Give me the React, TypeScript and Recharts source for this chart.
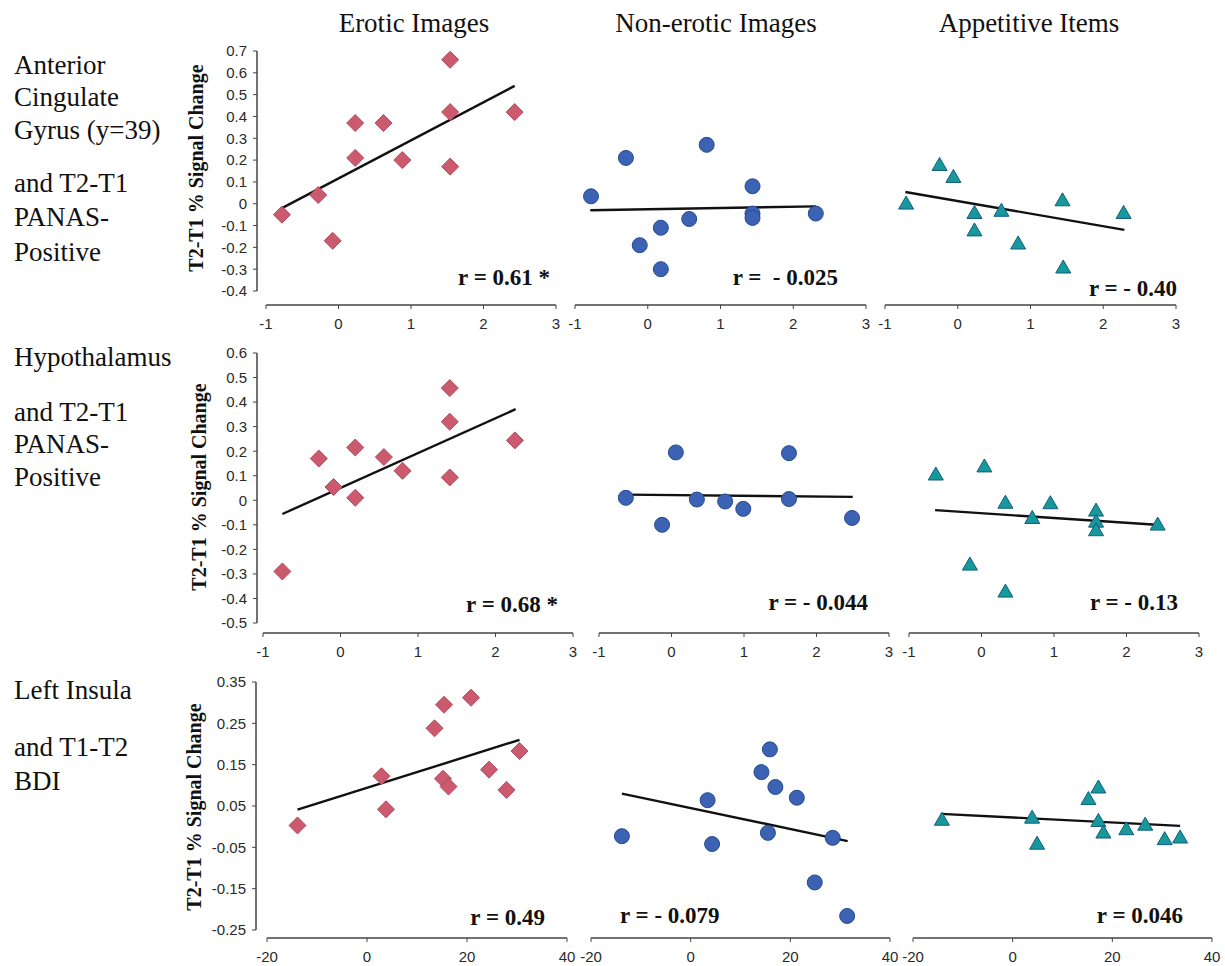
import { ScatterChart, Scatter, XAxis, YAxis, ReferenceLine } from 'recharts';

type Pt = { x: number; y: number };

// ---- categories / labels ----
const columnTitles = ['Erotic Images', 'Non-erotic Images', 'Appetitive Items'];
const rowLabels = [
  ['Anterior', 'Cingulate', 'Gyrus (y=39)', 'and T2-T1', 'PANAS-', 'Positive'],
  ['Hypothalamus', 'and T2-T1', 'PANAS-', 'Positive'],
  ['Left Insula', 'and T1-T2', 'BDI'],
];
const yTitle = 'T2-T1 % Signal Change';
const rLabels = [
  ['r = 0.61 *', 'r =  - 0.025', 'r = - 0.40'],
  ['r = 0.68 *', 'r = - 0.044', 'r = - 0.13'],
  ['r = 0.49', 'r = - 0.079', 'r = 0.046'],
];

// ---- tick values ----
const panasXTicks = [-1, 0, 1, 2, 3];
const bdiXTicks = [-20, 0, 20, 40];
const acgYTicks = [-0.4, -0.3, -0.2, -0.1, 0, 0.1, 0.2, 0.3, 0.4, 0.5, 0.6, 0.7];
const hypYTicks = [-0.5, -0.4, -0.3, -0.2, -0.1, 0, 0.1, 0.2, 0.3, 0.4, 0.5, 0.6];
const insYTicks = [-0.25, -0.15, -0.05, 0.05, 0.15, 0.25, 0.35];

// ---- row 1: anterior cingulate vs PANAS-positive ----
const acgErotic: Pt[] = [
  { x: -0.78, y: -0.05 }, { x: -0.28, y: 0.04 }, { x: -0.08, y: -0.17 }, { x: 0.23, y: 0.37 },
  { x: 0.23, y: 0.21 }, { x: 0.62, y: 0.37 }, { x: 0.88, y: 0.2 }, { x: 1.54, y: 0.66 },
  { x: 1.54, y: 0.42 }, { x: 1.54, y: 0.17 }, { x: 2.43, y: 0.42 },
];
const acgEroticFit: Pt[] = [{ x: -0.78, y: -0.02 }, { x: 2.43, y: 0.54 }];
const acgNonErotic: Pt[] = [
  { x: -0.78, y: 0.034 }, { x: -0.3, y: 0.21 }, { x: -0.11, y: -0.19 }, { x: 0.18, y: -0.11 },
  { x: 0.18, y: -0.3 }, { x: 0.57, y: -0.07 }, { x: 0.81, y: 0.27 }, { x: 1.44, y: 0.08 },
  { x: 1.44, y: -0.045 }, { x: 1.44, y: -0.065 }, { x: 2.31, y: -0.045 },
];
const acgNonEroticFit: Pt[] = [{ x: -0.79, y: -0.03 }, { x: 2.31, y: -0.012 }];
const acgAppetitive: Pt[] = [
  { x: -0.71, y: 0.003 }, { x: -0.25, y: 0.18 }, { x: -0.06, y: 0.125 }, { x: 0.23, y: -0.04 },
  { x: 0.23, y: -0.12 }, { x: 0.6, y: -0.03 }, { x: 0.83, y: -0.18 }, { x: 1.44, y: 0.018 },
  { x: 1.45, y: -0.29 }, { x: 2.28, y: -0.04 },
];
const acgAppetitiveFit: Pt[] = [{ x: -0.72, y: 0.054 }, { x: 2.29, y: -0.12 }];

// ---- row 2: hypothalamus vs PANAS-positive ----
const hypErotic: Pt[] = [
  { x: -0.75, y: -0.29 }, { x: -0.28, y: 0.17 }, { x: -0.09, y: 0.054 }, { x: 0.19, y: 0.215 },
  { x: 0.19, y: 0.01 }, { x: 0.56, y: 0.176 }, { x: 0.8, y: 0.12 }, { x: 1.41, y: 0.457 },
  { x: 1.41, y: 0.32 }, { x: 1.41, y: 0.093 }, { x: 2.25, y: 0.244 },
];
const hypEroticFit: Pt[] = [{ x: -0.75, y: -0.056 }, { x: 2.26, y: 0.371 }];
const hypNonErotic: Pt[] = [
  { x: -0.63, y: 0.01 }, { x: -0.13, y: -0.1 }, { x: 0.06, y: 0.195 }, { x: 0.35, y: 0.003 },
  { x: 0.74, y: -0.005 }, { x: 0.99, y: -0.035 }, { x: 1.62, y: 0.192 }, { x: 1.62, y: 0.005 },
  { x: 2.49, y: -0.072 },
];
const hypNonEroticFit: Pt[] = [{ x: -0.63, y: 0.023 }, { x: 2.5, y: 0.014 }];
const hypAppetitive: Pt[] = [
  { x: -0.63, y: 0.107 }, { x: 0.04, y: 0.14 }, { x: 0.33, y: -0.008 }, { x: 0.7, y: -0.07 },
  { x: 0.95, y: -0.01 }, { x: 1.58, y: -0.04 }, { x: 1.58, y: -0.085 }, { x: 1.58, y: -0.12 },
  { x: -0.16, y: -0.26 }, { x: 0.33, y: -0.37 }, { x: 2.43, y: -0.097 },
];
const hypAppetitiveFit: Pt[] = [{ x: -0.64, y: -0.04 }, { x: 2.41, y: -0.1 }];

// ---- row 3: left insula vs BDI ----
const insErotic: Pt[] = [
  { x: -13.9, y: 0.003 }, { x: 2.9, y: 0.122 }, { x: 3.8, y: 0.042 }, { x: 13.5, y: 0.238 },
  { x: 15.4, y: 0.295 }, { x: 15.2, y: 0.116 }, { x: 16.3, y: 0.097 }, { x: 20.8, y: 0.312 },
  { x: 24.4, y: 0.138 }, { x: 27.9, y: 0.089 }, { x: 30.5, y: 0.183 },
];
const insEroticFit: Pt[] = [{ x: -13.9, y: 0.041 }, { x: 30.5, y: 0.21 }];
const insNonErotic: Pt[] = [
  { x: -13.8, y: -0.023 }, { x: 3.4, y: 0.064 }, { x: 4.3, y: -0.042 }, { x: 14.2, y: 0.132 },
  { x: 15.9, y: 0.187 }, { x: 17.0, y: 0.096 }, { x: 15.5, y: -0.015 }, { x: 21.3, y: 0.07 },
  { x: 28.5, y: -0.027 }, { x: 24.9, y: -0.135 }, { x: 31.4, y: -0.216 },
];
const insNonEroticFit: Pt[] = [{ x: -13.8, y: 0.08 }, { x: 31.5, y: -0.035 }];
const insAppetitive: Pt[] = [
  { x: -14.2, y: 0.018 }, { x: 3.9, y: 0.023 }, { x: 4.9, y: -0.04 }, { x: 15.2, y: 0.068 },
  { x: 17.2, y: 0.096 }, { x: 17.2, y: 0.015 }, { x: 18.2, y: -0.013 }, { x: 22.8, y: -0.005 },
  { x: 26.6, y: 0.006 }, { x: 30.5, y: -0.029 }, { x: 33.6, y: -0.025 },
];
const insAppetitiveFit: Pt[] = [{ x: -14.4, y: 0.031 }, { x: 33.6, y: 0.002 }];

// ---- layout ----
const SERIF = "'Liberation Serif', 'Times New Roman', serif";
const SANS = "'Liberation Sans', Arial, sans-serif";
const AXIS = '#444';
const TICK = { fontFamily: SANS, fontSize: 15, fill: '#2a2a2a' };

type Kind = 'diamond' | 'circle' | 'triangle';
const kinds: Kind[] = ['diamond', 'circle', 'triangle'];

const rows = [
  {
    yTicks: acgYTicks, xTicks: panasXTicks, top: 51, minTickPx: 291, bottom: 305, yAxisX: 257,
    cols: [[266, 556], [575, 866], [885, 1176]],
    series: [[acgErotic, acgEroticFit], [acgNonErotic, acgNonEroticFit], [acgAppetitive, acgAppetitiveFit]],
  },
  {
    yTicks: hypYTicks, xTicks: panasXTicks, top: 353, minTickPx: 623, bottom: 633, yAxisX: 257,
    cols: [[263, 573], [599, 889], [909, 1199]],
    series: [[hypErotic, hypEroticFit], [hypNonErotic, hypNonEroticFit], [hypAppetitive, hypAppetitiveFit]],
  },
  {
    yTicks: insYTicks, xTicks: bdiXTicks, top: 682, minTickPx: 930, bottom: 938, yAxisX: 256,
    cols: [[267, 567], [591, 890], [913, 1212]],
    series: [[insErotic, insEroticFit], [insNonErotic, insNonEroticFit], [insAppetitive, insAppetitiveFit]],
  },
];

const rowLabelBaselines = [
  [74, 106, 139, 192, 226, 261],
  [366, 421, 453, 486],
  [699, 756, 790],
];
const yTitlePos = [[196, 168], [199, 487], [194, 807]];
const rLabelPos = [
  [[550, 285, 'end'], [838, 285, 'end'], [1177, 296, 'end']],
  [[558, 612, 'end'], [868, 610, 'end'], [1178, 610, 'end']],
  [[545, 925, 'end'], [620, 923, 'start'], [1183, 923, 'end']],
];
const titleX = [414, 716, 1029];

const Marker = (kind: Kind) => (p: any) => {
  const { cx, cy } = p;
  if (cx == null || cy == null) return <g />;
  if (kind === 'diamond') {
    const s = 8.5;
    return (
      <polygon
        points={`${cx},${cy - s} ${cx + s},${cy} ${cx},${cy + s} ${cx - s},${cy}`}
        fill="#cc5a6e" stroke="#b44a5e" strokeWidth={1}
      />
    );
  }
  if (kind === 'circle') {
    return <circle cx={cx} cy={cy} r={7.5} fill="#3c62b3" stroke="#264a91" strokeWidth={1} />;
  }
  return (
    <polygon
      points={`${cx},${cy - 7} ${cx + 7.5},${cy + 6} ${cx - 7.5},${cy + 6}`}
      fill="#17999b" stroke="#125d80" strokeWidth={1}
    />
  );
};

interface PanelProps {
  xStart: number; xEnd: number; yAxisX: number; showY: boolean;
  top: number; bottom: number; minTickPx: number;
  xTicks: number[]; yTicks: number[];
  points: Pt[]; fit: Pt[]; kind: Kind;
}

function Panel(props: PanelProps) {
  const { xStart, xEnd, yAxisX, showY, top, bottom, minTickPx, xTicks, yTicks, points, fit, kind } = props;
  const xMinT = xTicks[0];
  const xMaxT = xTicks[xTicks.length - 1];
  const yMinT = yTicks[0];
  const yMaxT = yTicks[yTicks.length - 1];
  const xPerPx = (xMaxT - xMinT) / (xEnd - xStart);
  const yPerPx = (yMaxT - yMinT) / (minTickPx - top);
  const plotLeft = showY ? yAxisX : xStart;
  const xMin = showY ? xMinT - (xStart - yAxisX) * xPerPx : xMinT;
  const yMin = yMinT - (bottom - minTickPx) * yPerPx;

  const leftPad = showY ? 70 : 12;
  const rightPad = 14;
  const topPad = 12;
  const bottomPad = 32;
  const width = xEnd - plotLeft + leftPad + rightPad;
  const height = bottom - top + topPad + bottomPad;

  return (
    <div style={{ position: 'absolute', left: plotLeft - leftPad, top: top - topPad }}>
      <ScatterChart
        width={width}
        height={height}
        margin={{ top: topPad, right: rightPad, bottom: 0, left: showY ? 0 : leftPad }}
      >
        <XAxis
          type="number"
          dataKey="x"
          domain={[xMin, xMaxT]}
          ticks={xTicks}
          allowDataOverflow
          axisLine={false}
          tickLine={{ stroke: AXIS }}
          tickSize={4}
          tickMargin={9}
          tick={TICK}
          height={bottomPad}
          interval={0}
        />
        <YAxis
          type="number"
          dataKey="y"
          domain={[yMin, yMaxT]}
          ticks={yTicks}
          allowDataOverflow
          hide={!showY}
          axisLine={false}
          tickLine={{ stroke: AXIS }}
          tickSize={4}
          tickMargin={6}
          tick={TICK}
          width={leftPad}
          interval={0}
          tickFormatter={(v: number) => (v === 0 ? '0' : String(v))}
        />
        <ReferenceLine
          segment={[{ x: xMinT, y: yMin }, { x: xMaxT, y: yMin }]}
          stroke={AXIS}
          strokeWidth={1.5}
          ifOverflow="visible"
        />
        {showY && (
          <ReferenceLine
            segment={[{ x: xMin, y: yMinT }, { x: xMin, y: yMaxT }]}
            stroke={AXIS}
            strokeWidth={1.5}
            ifOverflow="visible"
          />
        )}
        <Scatter
          data={fit}
          line={{ stroke: '#111', strokeWidth: 2.4 }}
          shape={() => <g />}
          isAnimationActive={false}
        />
        <Scatter data={points} shape={Marker(kind)} isAnimationActive={false} />
      </ScatterChart>
    </div>
  );
}

export default function App() {
  return (
    <div
      style={{
        position: 'absolute', left: 0, top: 0, width: 1225, height: 966,
        background: '#fff', overflow: 'hidden',
      }}
    >
      {rows.map((row, ri) =>
        row.cols.map(([xs, xe], ci) => (
          <Panel
            key={`${ri}-${ci}`}
            xStart={xs}
            xEnd={xe}
            yAxisX={row.yAxisX}
            showY={ci === 0}
            top={row.top}
            bottom={row.bottom}
            minTickPx={row.minTickPx}
            xTicks={row.xTicks}
            yTicks={row.yTicks}
            points={row.series[ci][0]}
            fit={row.series[ci][1]}
            kind={kinds[ci]}
          />
        ))
      )}
      <svg
        width={1225}
        height={966}
        style={{ position: 'absolute', left: 0, top: 0, pointerEvents: 'none' }}
      >
        {columnTitles.map((t, i) => (
          <text key={t} x={titleX[i]} y={32} textAnchor="middle" fontFamily={SERIF} fontSize={27} fill="#111">
            {t}
          </text>
        ))}
        {rowLabels.map((lines, ri) =>
          lines.map((l, li) => (
            <text key={`${ri}-${li}`} x={14} y={rowLabelBaselines[ri][li]} fontFamily={SERIF} fontSize={27} fill="#111">
              {l}
            </text>
          ))
        )}
        {yTitlePos.map(([x, y], i) => (
          <text
            key={`yt-${i}`}
            x={x}
            y={y}
            transform={`rotate(-90 ${x} ${y})`}
            textAnchor="middle"
            dominantBaseline="central"
            fontFamily={SERIF}
            fontWeight="bold"
            fontSize={20}
            fill="#111"
          >
            {yTitle}
          </text>
        ))}
        {rLabels.map((rowL, ri) =>
          rowL.map((t, ci) => {
            const [x, y, anchor] = rLabelPos[ri][ci] as [number, number, 'start' | 'end'];
            return (
              <text
                key={`r-${ri}-${ci}`}
                x={x}
                y={y}
                textAnchor={anchor}
                fontFamily={SERIF}
                fontWeight="bold"
                fontSize={23}
                fill="#111"
                style={{ whiteSpace: 'pre' }}
              >
                {t}
              </text>
            );
          })
        )}
      </svg>
    </div>
  );
}
